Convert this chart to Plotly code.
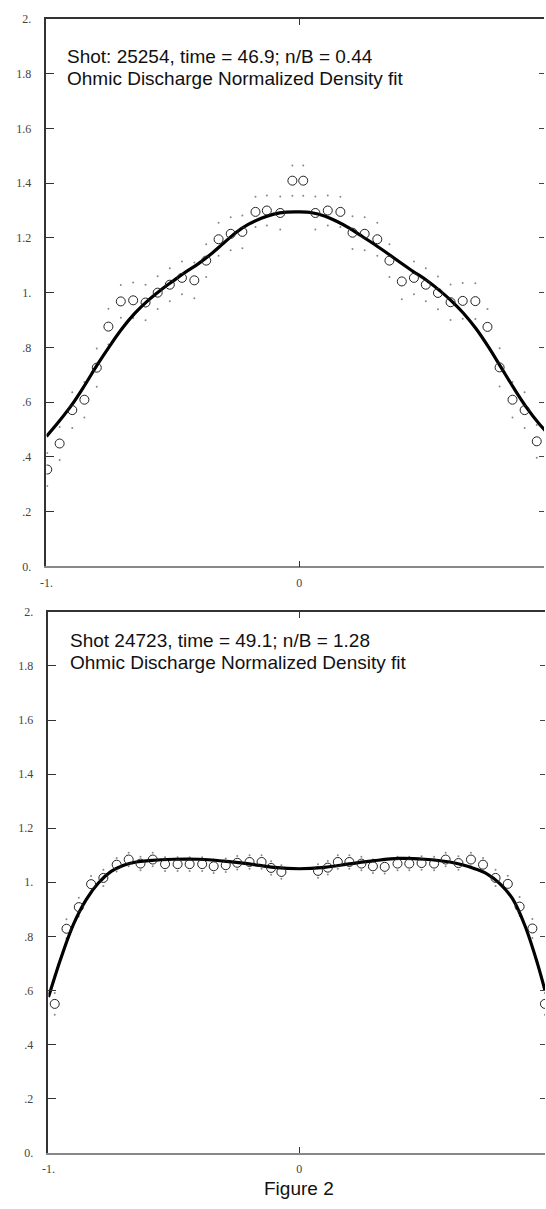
import plotly.graph_objects as go

# ---------------- data ----------------
# Top panel: Shot 25254
x_top = [-0.997, -0.948, -0.898, -0.850, -0.801, -0.755, -0.706, -0.657, -0.608, -0.560,
         -0.512, -0.464, -0.415, -0.368, -0.319, -0.271, -0.225, -0.173, -0.128, -0.075,
         -0.027, 0.016, 0.064, 0.113, 0.163, 0.211, 0.259, 0.309, 0.357, 0.406,
         0.454, 0.501, 0.549, 0.599, 0.647, 0.697, 0.745, 0.793, 0.844, 0.892, 0.940]
y_top = [0.354, 0.449, 0.571, 0.609, 0.726, 0.876, 0.968, 0.972, 0.964, 1.000,
         1.029, 1.054, 1.045, 1.117, 1.195, 1.215, 1.222, 1.295, 1.300, 1.291,
         1.409, 1.409, 1.291, 1.300, 1.295, 1.219, 1.215, 1.195, 1.117, 1.041,
         1.054, 1.029, 0.999, 0.965, 0.970, 0.969, 0.875, 0.727, 0.609, 0.571, 0.457]
err_top = [0.06, 0.06, 0.065, 0.065, 0.07, 0.065, 0.06, 0.065, 0.065, 0.06,
           0.06, 0.06, 0.065, 0.06, 0.06, 0.06, 0.06, 0.055, 0.055, 0.06,
           0.055, 0.055, 0.06, 0.055, 0.055, 0.06, 0.06, 0.06, 0.06, 0.065,
           0.06, 0.06, 0.06, 0.065, 0.065, 0.065, 0.065, 0.07, 0.065, 0.065, 0.06]
xc_top = [-1.0, -0.95, -0.9, -0.85, -0.8, -0.75, -0.7, -0.65, -0.6, -0.55, -0.5, -0.45,
          -0.4, -0.35, -0.3, -0.25, -0.2, -0.15, -0.1, -0.05, 0.0, 0.05, 0.1, 0.15, 0.2,
          0.25, 0.3, 0.35, 0.4, 0.45, 0.5, 0.55, 0.6, 0.65, 0.7, 0.75, 0.8, 0.85, 0.9,
          0.95, 0.98]
yc_top = [0.475, 0.53, 0.59, 0.66, 0.735, 0.805, 0.87, 0.925, 0.97, 1.008, 1.042, 1.075,
          1.105, 1.14, 1.18, 1.22, 1.25, 1.272, 1.287, 1.294, 1.295, 1.292, 1.28, 1.26, 1.235,
          1.205, 1.175, 1.143, 1.11, 1.078, 1.048, 1.012, 0.972, 0.925, 0.868, 0.80, 0.725,
          0.65, 0.58, 0.52, 0.49]

# Bottom panel: Shot 24723
x_bot = [-0.975, -0.928, -0.879, -0.830, -0.781, -0.728, -0.680, -0.633, -0.584, -0.535,
         -0.485, -0.437, -0.387, -0.341, -0.293, -0.247, -0.198, -0.150, -0.112, -0.071,
         0.075, 0.114, 0.154, 0.200, 0.248, 0.294, 0.341, 0.392, 0.439, 0.488,
         0.538, 0.584, 0.635, 0.685, 0.733, 0.783, 0.832, 0.879, 0.930, 0.980]
y_bot = [0.550, 0.828, 0.908, 0.993, 1.016, 1.065, 1.084, 1.069, 1.084, 1.067,
         1.067, 1.067, 1.067, 1.059, 1.063, 1.072, 1.075, 1.075, 1.053, 1.038,
         1.042, 1.054, 1.075, 1.075, 1.069, 1.059, 1.057, 1.069, 1.069, 1.071,
         1.069, 1.084, 1.071, 1.084, 1.065, 1.016, 0.994, 0.910, 0.829, 0.550]
err_bot = [0.04, 0.035, 0.035, 0.03, 0.03, 0.025, 0.025, 0.025, 0.025, 0.025,
           0.025, 0.025, 0.025, 0.025, 0.025, 0.025, 0.025, 0.025, 0.025, 0.025,
           0.025, 0.025, 0.025, 0.025, 0.025, 0.025, 0.025, 0.025, 0.025, 0.025,
           0.025, 0.025, 0.025, 0.025, 0.025, 0.03, 0.03, 0.035, 0.035, 0.04]
xc_bot = [-1.0, -0.95, -0.9, -0.85, -0.8, -0.75, -0.7, -0.65, -0.6, -0.5, -0.4, -0.3, -0.2,
          -0.1, 0.0, 0.1, 0.2, 0.3, 0.4, 0.5, 0.6, 0.65, 0.7, 0.75, 0.8, 0.85, 0.9, 0.95, 0.98]
yc_bot = [0.575, 0.72, 0.845, 0.935, 0.998, 1.04, 1.063, 1.075, 1.08, 1.085, 1.085, 1.078,
          1.068, 1.055, 1.05, 1.055, 1.068, 1.08, 1.088, 1.085, 1.075, 1.065, 1.05, 1.03,
          0.995, 0.94, 0.84, 0.70, 0.60]

ytick_vals = [0, 0.2, 0.4, 0.6, 0.8, 1.0, 1.2, 1.4, 1.6, 1.8, 2.0]
ytick_text = ["0.", ".2", ".4", ".6", ".8", "1.", "1.2", "1.4", "1.6", "1.8", "2."]
xtick_vals = [-1, 0]
xtick_text = ["-1.", "0"]

title_top = ["Shot: 25254, time = 46.9; n/B = 0.44", "Ohmic Discharge Normalized Density fit"]
title_bot = ["Shot 24723, time = 49.1; n/B = 1.28", "Ohmic Discharge Normalized Density fit"]
caption = "Figure 2"

# ---------------- figure ----------------
W, H = 546, 1209
fig = go.Figure()


def add_panel(fig, xs, ys, errs, xc, yc, xa, ya):
    fig.add_trace(go.Scatter(x=xs, y=[a + e for a, e in zip(ys, errs)], mode="markers",
                             marker=dict(size=2, color="#888"), xaxis=xa, yaxis=ya,
                             showlegend=False, hoverinfo="skip"))
    fig.add_trace(go.Scatter(x=xs, y=[a - e for a, e in zip(ys, errs)], mode="markers",
                             marker=dict(size=2, color="#888"), xaxis=xa, yaxis=ya,
                             showlegend=False, hoverinfo="skip"))
    fig.add_trace(go.Scatter(x=xc, y=yc, mode="lines", line=dict(color="black", width=3.2,
                             shape="spline", smoothing=1.0), xaxis=xa, yaxis=ya,
                             showlegend=False))
    fig.add_trace(go.Scatter(x=xs, y=ys, mode="markers",
                             marker=dict(symbol="circle-open", size=9, color="#222",
                                         line=dict(width=1, color="#222")),
                             xaxis=xa, yaxis=ya, showlegend=False))


add_panel(fig, x_top, y_top, err_top, xc_top, yc_top, "x", "y")
add_panel(fig, x_bot, y_bot, err_bot, xc_bot, yc_bot, "x2", "y2")

tickfont = dict(family="Liberation Serif", size=12, color="#444")

top_dom_y = [1 - 566 / H, 1 - 12 / H]
bot_dom_y = [1 - 1159 / H, 1 - 612 / H]
top_dom_x = [40 / W, 544 / W]
bot_dom_x = [42 / W, 545 / W]
top_rng_x = [-1, (544 - 296) / 256]
bot_rng_x = [-1, (545 - 296) / 254]

common_x = dict(showgrid=False, zeroline=False, ticks="inside", ticklen=6, tickwidth=1,
                tickcolor="#333", tickvals=xtick_vals, ticktext=xtick_text, tickfont=tickfont,
                showline=True, linecolor="#888", linewidth=1.5, ticklabelstandoff=4)
common_y = dict(showgrid=False, zeroline=False, ticks="inside", ticklen=8, tickwidth=1,
                tickcolor="#333", tickvals=ytick_vals, ticktext=ytick_text, tickfont=tickfont,
                showline=True, linecolor="#333", linewidth=1.5, range=[0, 2], ticklabelstandoff=11)
top_x_over = dict(showgrid=False, zeroline=False, ticks="inside", ticklen=6, tickvals=[0],
                  showticklabels=False, showline=True, linecolor="#333", linewidth=1.5,
                  tickcolor="#333", side="top")
right_y_over = dict(showgrid=False, zeroline=False, ticks="inside", ticklen=5, tickvals=ytick_vals,
                    showticklabels=False, showline=False, tickcolor="#444", side="right",
                    range=[0, 2])

fig.update_layout(
    width=W, height=H, margin=dict(l=0, r=0, t=0, b=0),
    paper_bgcolor="white", plot_bgcolor="white", showlegend=False,
    xaxis=dict(domain=top_dom_x, range=top_rng_x, anchor="y", **common_x),
    yaxis=dict(domain=top_dom_y, anchor="x", **common_y),
    xaxis2=dict(domain=bot_dom_x, range=bot_rng_x, anchor="y2", **common_x),
    yaxis2=dict(domain=bot_dom_y, anchor="x2", **common_y),
    xaxis3=dict(overlaying="x", anchor="y", range=top_rng_x, **top_x_over),
    yaxis3=dict(overlaying="y", anchor="x", **right_y_over),
    xaxis4=dict(overlaying="x2", anchor="y2", range=bot_rng_x, **top_x_over),
    yaxis4=dict(overlaying="y2", anchor="x2", **right_y_over),
)

# invisible traces so the overlay axes are drawn
fig.add_trace(go.Scatter(x=[None], y=[None], xaxis="x3", yaxis="y3", showlegend=False))
fig.add_trace(go.Scatter(x=[None], y=[None], xaxis="x4", yaxis="y4", showlegend=False))

txtfont = dict(family="Liberation Sans", size=19, color="#111")
for i, t in enumerate(title_top):
    fig.add_annotation(text=t, xref="paper", yref="paper", x=59 / W, y=1 - (50 + 22 * i) / H,
                       xanchor="left", yanchor="middle", showarrow=False, font=txtfont)
for i, t in enumerate(title_bot):
    fig.add_annotation(text=t, xref="paper", yref="paper", x=62 / W, y=1 - (641 + 22 * i) / H,
                       xanchor="left", yanchor="middle", showarrow=False, font=txtfont)
fig.add_annotation(text=caption, xref="paper", yref="paper", x=296 / W, y=1 - 1195 / H,
                   xanchor="center", yanchor="middle", showarrow=False,
                   font=dict(family="Liberation Sans", size=19, color="#111"))

fig.write_html("out.html")
